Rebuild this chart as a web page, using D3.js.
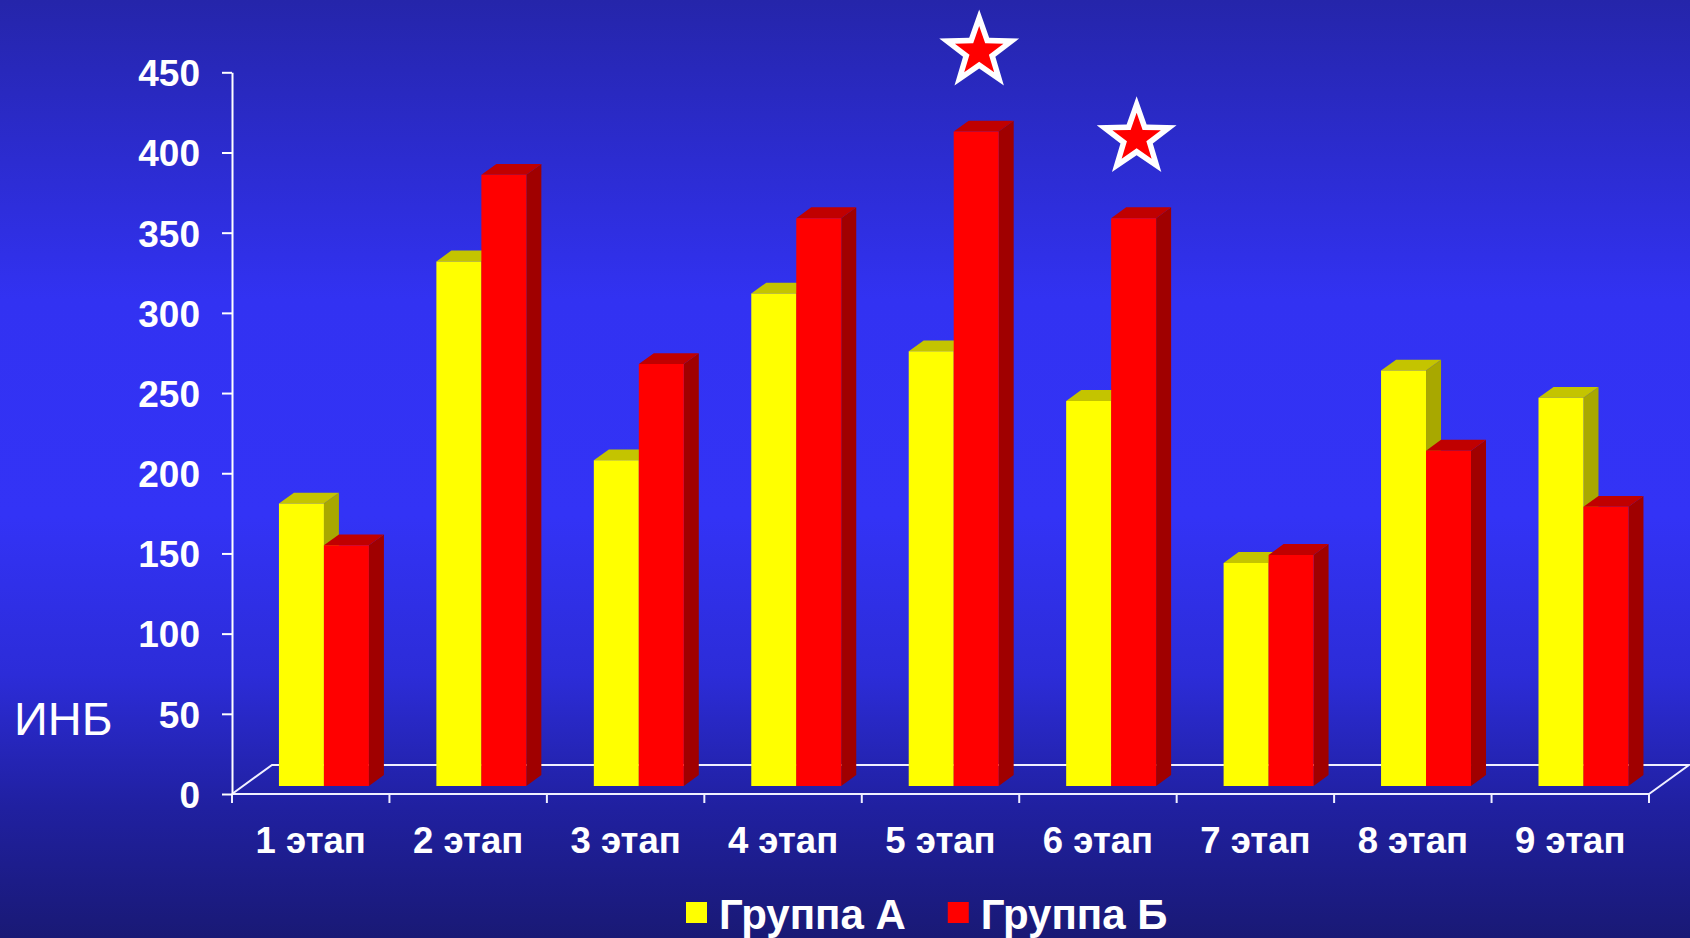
<!DOCTYPE html>
<html>
<head>
<meta charset="utf-8">
<script src="https://cdn.jsdelivr.net/npm/d3@7"></script>
<style>
  html, body { margin: 0; padding: 0; background: #1a1a78; }
  svg { display: block; }
  text { font-family: "Liberation Sans", Arial, sans-serif; fill: #ffffff; }
</style>
</head>
<body>
<svg id="chart" width="1690" height="938"></svg>
<script>
// ---- data ----
const categories = ["1 этап", "2 этап", "3 этап", "4 этап", "5 этап", "6 этап", "7 этап", "8 этап", "9 этап"];
const seriesNames = ["Группа А", "Группа Б"];
const groupA = [176, 327, 203, 307, 271, 240, 139, 259, 242];
const groupB = [150, 381, 263, 354, 408, 354, 144, 209, 174];
const yTicks = [0, 50, 100, 150, 200, 250, 300, 350, 400, 450];
const markedStages = ["5 этап", "6 этап"]; // stages flagged with a star over Группа Б
const axisTitle = "ИНБ";

// ---- layout ----
const W = 1690, H = 938;
const plot = { left: 232, right: 1649, top: 72.3, bottom: 794 };
const depth = { dx: 40, dy: -29 };   // projection of the full floor depth
const barZ0 = 0.28, barZ1 = 0.655;   // bar front / back positions inside the floor depth
const groupShift = 2;                // slight perspective shift of each bar cluster

const colors = {
  "Группа А": { front: "#ffff00", top: "#c4c400", side: "#a8a800" },
  "Группа Б": { front: "#ff0000", top: "#c00000", side: "#a00000" }
};

const svg = d3.select("#chart");

// background gradient
const defs = svg.append("defs");
const grad = defs.append("linearGradient").attr("id", "bg")
  .attr("x1", 0).attr("y1", 0).attr("x2", 0).attr("y2", 1);
[[0, "#2525aa"], [0.32, "#3232f2"], [0.55, "#3333f6"], [0.72, "#2c2cd8"], [0.86, "#2020a0"], [1, "#191975"]]
  .forEach(([o, c]) => grad.append("stop").attr("offset", o).attr("stop-color", c));
svg.append("rect").attr("width", W).attr("height", H).attr("fill", "url(#bg)");

// scales
const x = d3.scaleBand().domain(categories).range([plot.left, plot.right]).padding(0);
const y = d3.scaleLinear().domain([0, 450]).range([plot.bottom, plot.top]);
const barW = x.bandwidth() / 3.5;  // gap width 150%
const sub = d3.scaleBand().domain(seriesNames).range([0, barW * 2]).padding(0);

const proj = (px, py, z) => [px + depth.dx * z, py + depth.dy * z];

// floor outline (back part first so bars cover it)
const floorG = svg.append("g").attr("stroke", "#f0f0ff").attr("stroke-width", 2).attr("fill", "none");
const fl = [plot.left, plot.bottom], fr = [plot.right, plot.bottom];
const bl = proj(plot.left, plot.bottom, 1), br = proj(plot.right, plot.bottom, 1);
floorG.append("path").attr("d", d3.line()([fl, bl, br, fr]));

// bars
const data = categories.map((c, i) => ({ cat: c, values: [
  { s: seriesNames[0], v: groupA[i] }, { s: seriesNames[1], v: groupB[i] }
]}));

const barsG = svg.append("g");
const ptsStr = pts => pts.map(p => p.join(",")).join(" ");
data.forEach(d => {
  const g0 = x(d.cat) + (x.bandwidth() - barW * 2) / 2 + groupShift;
  d.values.forEach(b => {
    const x0 = g0 + sub(b.s), x1 = x0 + barW;
    const yb = y(0), yt = y(b.v);
    const c = colors[b.s];
    const fBL = proj(x0, yb, barZ0), fBR = proj(x1, yb, barZ0);
    const fTL = proj(x0, yt, barZ0), fTR = proj(x1, yt, barZ0);
    const kTL = proj(x0, yt, barZ1), kTR = proj(x1, yt, barZ1), kBR = proj(x1, yb, barZ1);
    const g = barsG.append("g");
    g.append("polygon").attr("points", ptsStr([fTR, kTR, kBR, fBR])).attr("fill", c.side);
    g.append("polygon").attr("points", ptsStr([fTL, kTL, kTR, fTR])).attr("fill", c.top);
    g.append("polygon").attr("points", ptsStr([fBL, fTL, fTR, fBR])).attr("fill", c.front);
    b.frontTop = fTL[1]; b.cx = (fTL[0] + fTR[0]) / 2;
  });
});

// front floor edge with category ticks
const xAxisG = svg.append("g").attr("transform", `translate(0,${plot.bottom})`);
xAxisG.append("line").attr("x1", plot.left).attr("x2", plot.right)
  .attr("stroke", "#f0f0ff").attr("stroke-width", 2);
const bounds = categories.map(c => x(c)).concat([plot.right]);
xAxisG.selectAll("line.tick").data(bounds).join("line").attr("class", "tick")
  .attr("x1", d => d).attr("x2", d => d).attr("y1", 0).attr("y2", 9)
  .attr("stroke", "#f0f0ff").attr("stroke-width", 2);
xAxisG.selectAll("text.cat").data(categories).join("text").attr("class", "cat")
  .attr("x", d => x(d) + x.bandwidth() / 2).attr("y", 59)
  .attr("text-anchor", "middle").attr("font-size", 36.5).attr("font-weight", "bold")
  .text(d => d);

// value axis
const yAxis = d3.axisLeft(y).tickValues(yTicks).tickSize(10).tickSizeOuter(0).tickPadding(22);
const yAxisG = svg.append("g").attr("transform", `translate(${plot.left},0)`).call(yAxis);
yAxisG.select(".domain").attr("stroke", "#ffffff").attr("stroke-width", 2);
yAxisG.selectAll(".tick line").attr("stroke", "#ffffff").attr("stroke-width", 2);
yAxisG.selectAll(".tick text").attr("fill", "#ffffff").attr("font-size", 37)
  .attr("font-weight", "bold").attr("font-family", "'Liberation Sans', Arial, sans-serif")
  .attr("dy", "0.36em");

// axis title
svg.append("text").attr("x", 14).attr("y", 735).attr("font-size", 47).text(axisTitle);

// significance stars over Группа Б
const starPath = (R, r) => {
  const pts = [];
  for (let k = 0; k < 10; k++) {
    const a = -Math.PI / 2 + k * Math.PI / 5, rad = k % 2 ? r : R;
    pts.push([rad * Math.cos(a), rad * Math.sin(a)]);
  }
  return d3.line()(pts) + "Z";
};
data.filter(d => markedStages.includes(d.cat)).forEach(d => {
  const b = d.values[1];
  const g = svg.append("g").attr("transform", `translate(${b.cx + 3},${b.frontTop - 80})`);
  g.append("path").attr("d", starPath(42, 17)).attr("fill", "#ffffff");
  g.append("path").attr("d", starPath(25.5, 10.2)).attr("fill", "#ff0000");
});

// legend
const legend = svg.append("g");
let lx = 686;
seriesNames.forEach(s => {
  legend.append("rect").attr("x", lx).attr("y", 902).attr("width", 21).attr("height", 21)
    .attr("fill", colors[s].front);
  const t = legend.append("text").attr("x", lx + 33).attr("y", 929)
    .attr("font-size", 42).attr("font-weight", "bold").text(s);
  lx += 33 + t.node().getComputedTextLength() + 42;
});
</script>
</body>
</html>
